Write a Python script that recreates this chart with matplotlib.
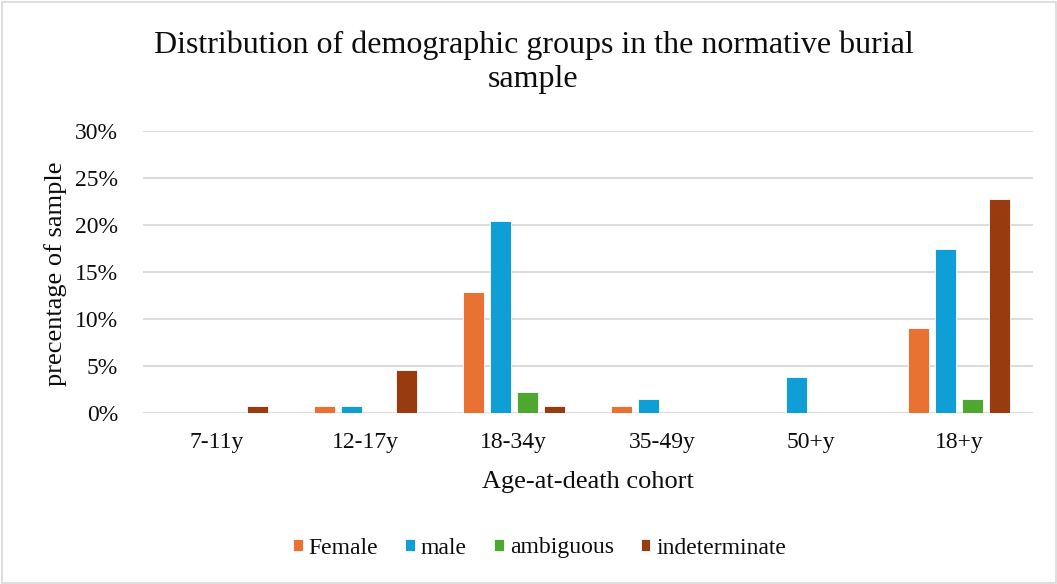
import matplotlib
matplotlib.use("Agg")
import matplotlib.pyplot as plt
import numpy as np
from matplotlib.patches import Rectangle

categories = ["7-11y", "12-17y", "18-34y", "35-49y", "50+y", "18+y"]
female = [0.0, 0.76, 12.88, 0.76, 0.0, 9.09]
male = [0.0, 0.76, 20.45, 1.52, 3.79, 17.42]
ambiguous = [0.0, 0.0, 2.27, 0.0, 0.0, 1.52]
indeterminate = [0.76, 4.55, 0.76, 0.0, 0.0, 22.73]
series_names = ["Female", "male", "ambiguous", "indeterminate"]
colors = ["#E97132", "#0F9ED5", "#4EA72E", "#983C0F"]
yticks = [0, 5, 10, 15, 20, 25, 30]

plt.rcParams['font.family'] = ['Liberation Serif', 'DejaVu Serif']
W, H = 1057, 584
txt = '#0d0d0d'

fig = plt.figure(figsize=(W/100, H/100), dpi=100)
ax = fig.add_axes([143/W, 1-413/H, (1033-143)/W, (413-131)/H])

x = np.arange(len(categories))
bw = 21/148
step = 27/148
data = [female, male, ambiguous, indeterminate]
for i, (vals, name, c) in enumerate(zip(data, series_names, colors)):
    ax.bar(x + (i-1.5)*step, vals, width=bw, color=c, label=name, zorder=3,
           edgecolor='white', linewidth=0.6)

ax.set_xlim(-0.5, len(categories)-0.5)
ax.set_ylim(0, 30)
ax.set_yticks(yticks)
ax.set_yticklabels([f"{t}%" for t in yticks], fontsize=17, color=txt)
ax.set_xticks(x)
ax.set_xticklabels(categories, fontsize=17, color=txt)
ax.tick_params(length=0)
ax.tick_params(axis='x', pad=14)
ax.tick_params(axis='y', pad=18)
ax.grid(axis='y', color='#d9d9d9', linewidth=1.3, zorder=0)
for s in ax.spines.values():
    s.set_visible(False)

fig.text(588/W, 1-488/H, "Age-at-death cohort", ha='center', va='baseline',
         fontsize=19, color=txt)
fig.text(55.5/W, 1-273.5/H, "precentage of sample", ha='center', va='center',
         rotation=90, fontsize=19, color=txt)

fig.text(533.5/W, 1-53.3/H, "Distribution of demographic groups in the normative burial",
         ha='center', va='baseline', fontsize=23, color=txt)
fig.text(533.5/W, 1-87/H, "sample", ha='center', va='baseline', fontsize=23, color=txt)

leg = fig.legend(loc='center', bbox_to_anchor=(539.5/W, 1-548/H), ncol=4, frameon=False,
                 fontsize=17, handlelength=0.42, handleheight=0.42, handletextpad=0.25,
                 columnspacing=1.14, labelcolor=txt)

fig.patches.append(Rectangle((1.5/W, 1.5/H), (W-3)/W, (H-3)/H, transform=fig.transFigure,
                             fill=False, edgecolor='#d9d9d9', linewidth=1.2))

fig.savefig("out.png", dpi=100)
